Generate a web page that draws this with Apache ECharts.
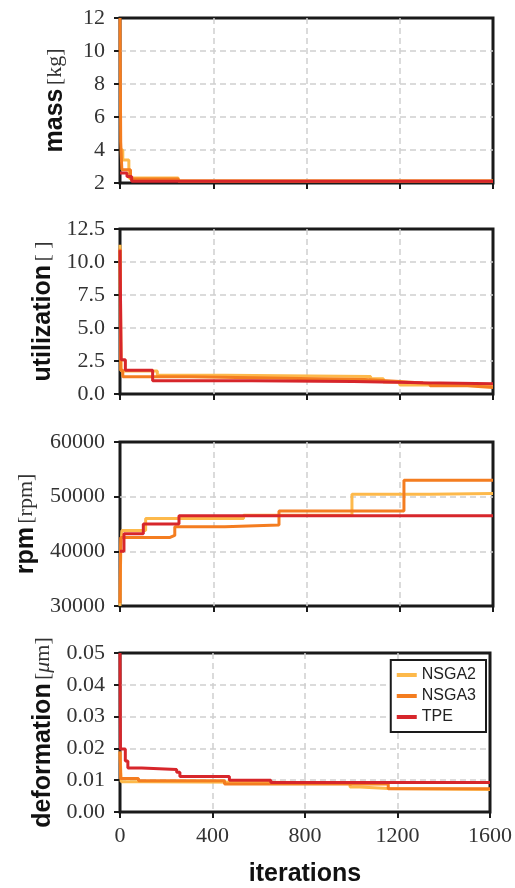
<!DOCTYPE html>
<html>
<head>
<meta charset="utf-8">
<script src="https://cdn.jsdelivr.net/npm/echarts@6/dist/echarts.min.js"></script>
<style>
  html, body { margin: 0; padding: 0; background: #fff; }
  #main { width: 515px; height: 888px; }
</style>
</head>
<body>
<div id="main"></div>
<script>
// x ticks
var iterTicks = [0, 400, 800, 1200, 1600];
var names = ['NSGA2', 'NSGA3', 'TPE'];
var colors = ['#fdb94b', '#f47d20', '#d7262b'];

// mass [kg]  -- [iteration, value]
var massNSGA2 = [[0, 4.0], [12, 3.4], [38, 2.3], [250, 2.12], [1600, 2.08]];
var massNSGA3 = [[0, 12], [3, 4.5], [8, 2.8], [45, 2.25], [250, 2.12], [1600, 2.08]];
var massTPE = [[0, 2.6], [30, 2.4], [50, 2.1], [1600, 2.08]];

// utilization []
var utilNSGA2 = [[0, 11.3], [5, 1.75], [160, 1.42], [450, 1.32], [1075, 1.15], [1130, 0.9], [1200, 0.68], [1330, 0.62], [1600, 0.6]];
var utilNSGA3 = [[0, 11], [3, 1.8], [12, 1.3], [300, 1.2], [700, 1.1], [1050, 0.95], [1200, 0.8], [1330, 0.62], [1490, 0.5], [1600, 0.5]];
var utilTPE = [[0, 10.9], [5, 2.6], [23, 1.8], [140, 1.0], [565, 0.95], [1000, 0.85], [1300, 0.78], [1600, 0.78]];

// rpm [rpm]
var rpmNSGA2 = [[0, 30000], [2, 37000], [4, 41000], [8, 43800], [110, 46000], [530, 46600], [995, 50450], [1330, 50600], [1600, 50600]];
var rpmNSGA3 = [[0, 30500], [3, 42550], [215, 42900], [235, 44500], [450, 44800], [682, 47400], [1218, 53000], [1600, 53000]];
var rpmTPE = [[0, 40000], [17, 43200], [100, 45000], [253, 46500], [1600, 46500]];

// deformation [um]
var defNSGA2 = [[0, 0.019], [5, 0.0095], [100, 0.0092], [995, 0.0079], [1037, 0.0074], [1160, 0.0071], [1600, 0.0071]];
var defNSGA3 = [[0, 0.019], [3, 0.0105], [80, 0.0098], [452, 0.0088], [1160, 0.0073], [1600, 0.0073]];
var defTPE = [[0, 0.05], [2, 0.0198], [23, 0.016], [34, 0.0138], [94, 0.0134], [245, 0.0125], [259, 0.0112], [473, 0.01], [652, 0.0093], [1600, 0.0093]];

var panels = [
  {title: '{b|mass} {s|[kg]}', min: 2, max: 12, step: 2, dec: 0, data: [massNSGA2, massNSGA3, massTPE]},
  {title: '{b|utilization} {s|[ ]}', min: 0, max: 12.5, step: 2.5, dec: 1, data: [utilNSGA2, utilNSGA3, utilTPE]},
  {title: '{b|rpm} {s|[rpm]}', min: 30000, max: 60000, step: 10000, dec: 0, data: [rpmNSGA2, rpmNSGA3, rpmTPE]},
  {title: '{b|deformation} {s|[}{i|μ}{s|m]}', min: 0, max: 0.05, step: 0.01, dec: 2, data: [defNSGA2, defNSGA3, defTPE]}
];
var tops = [18, 229, 442, 653];
var heights = [165, 165, 164, 166];

var serif = 'Liberation Serif';
var sans = 'Liberation Sans';
var rich = {
  b: {fontFamily: sans, fontWeight: 'bold', fontSize: 25, color: '#111'},
  s: {fontFamily: serif, fontSize: 22, color: '#333'},
  i: {fontFamily: serif, fontStyle: 'italic', fontSize: 22, color: '#333'}
};

var grids = [], xAxes = [], yAxes = [], series = [];
panels.forEach(function (p, k) {
  grids.push({left: 120, right: 22, top: tops[k], height: heights[k],
    show: true, borderColor: '#1a1a1a', borderWidth: 3, backgroundColor: '#fff'});
  var last = k === panels.length - 1;
  xAxes.push({
    type: 'value', gridIndex: k, min: 0, max: 1600, interval: 400,
    axisLine: {show: false},
    axisTick: {show: true, length: 6, lineStyle: {color: '#1a1a1a', width: 2}},
    axisLabel: {show: last, fontFamily: serif, fontSize: 22, color: '#333', margin: 13,
      formatter: function (v) { return String(v); }},
    splitLine: {show: true, showMinLine: false, showMaxLine: false,
      lineStyle: {color: '#cfcfcf', width: 1.5, type: [6, 4]}},
    name: last ? 'iterations' : '', nameLocation: 'middle', nameGap: 50,
    nameTextStyle: {fontFamily: sans, fontWeight: 'bold', fontSize: 25, color: '#111'}
  });
  yAxes.push({
    type: 'value', gridIndex: k, min: p.min, max: p.max, interval: p.step,
    axisLine: {show: false},
    axisTick: {show: true, length: 6, lineStyle: {color: '#1a1a1a', width: 2}},
    axisLabel: {fontFamily: serif, fontSize: 22, color: '#333', margin: 15,
      formatter: (function (d) { return function (v) { return v.toFixed(d); }; })(p.dec)},
    splitLine: {show: true, showMinLine: false, showMaxLine: false,
      lineStyle: {color: '#cfcfcf', width: 1.5, type: [6, 4]}},
    name: p.title, nameLocation: 'middle', nameRotate: 90, nameGap: 52,
    nameTextStyle: {rich: rich}
  });
  p.data.forEach(function (d, j) {
    series.push({
      name: names[j], type: 'line', step: 'end', xAxisIndex: k, yAxisIndex: k,
      data: d, showSymbol: false, symbol: 'none', z: 3 + j,
      lineStyle: {color: colors[j], width: 3},
      itemStyle: {color: colors[j]}
    });
  });
});

var chart = echarts.init(document.getElementById('main'));
chart.setOption({
  animation: false,
  backgroundColor: '#fff',
  grid: grids,
  xAxis: xAxes,
  yAxis: yAxes,
  legend: {
    data: names, orient: 'vertical', right: 29, top: 660,
    backgroundColor: '#fff', borderColor: '#1a1a1a', borderWidth: 2, borderRadius: 0,
    padding: [7, 10, 7, 6], itemGap: 5, itemWidth: 20, itemHeight: 4, icon: 'rect',
    textStyle: {fontFamily: sans, fontSize: 16, color: '#222'}
  },
  series: series
});
</script>
</body>
</html>
